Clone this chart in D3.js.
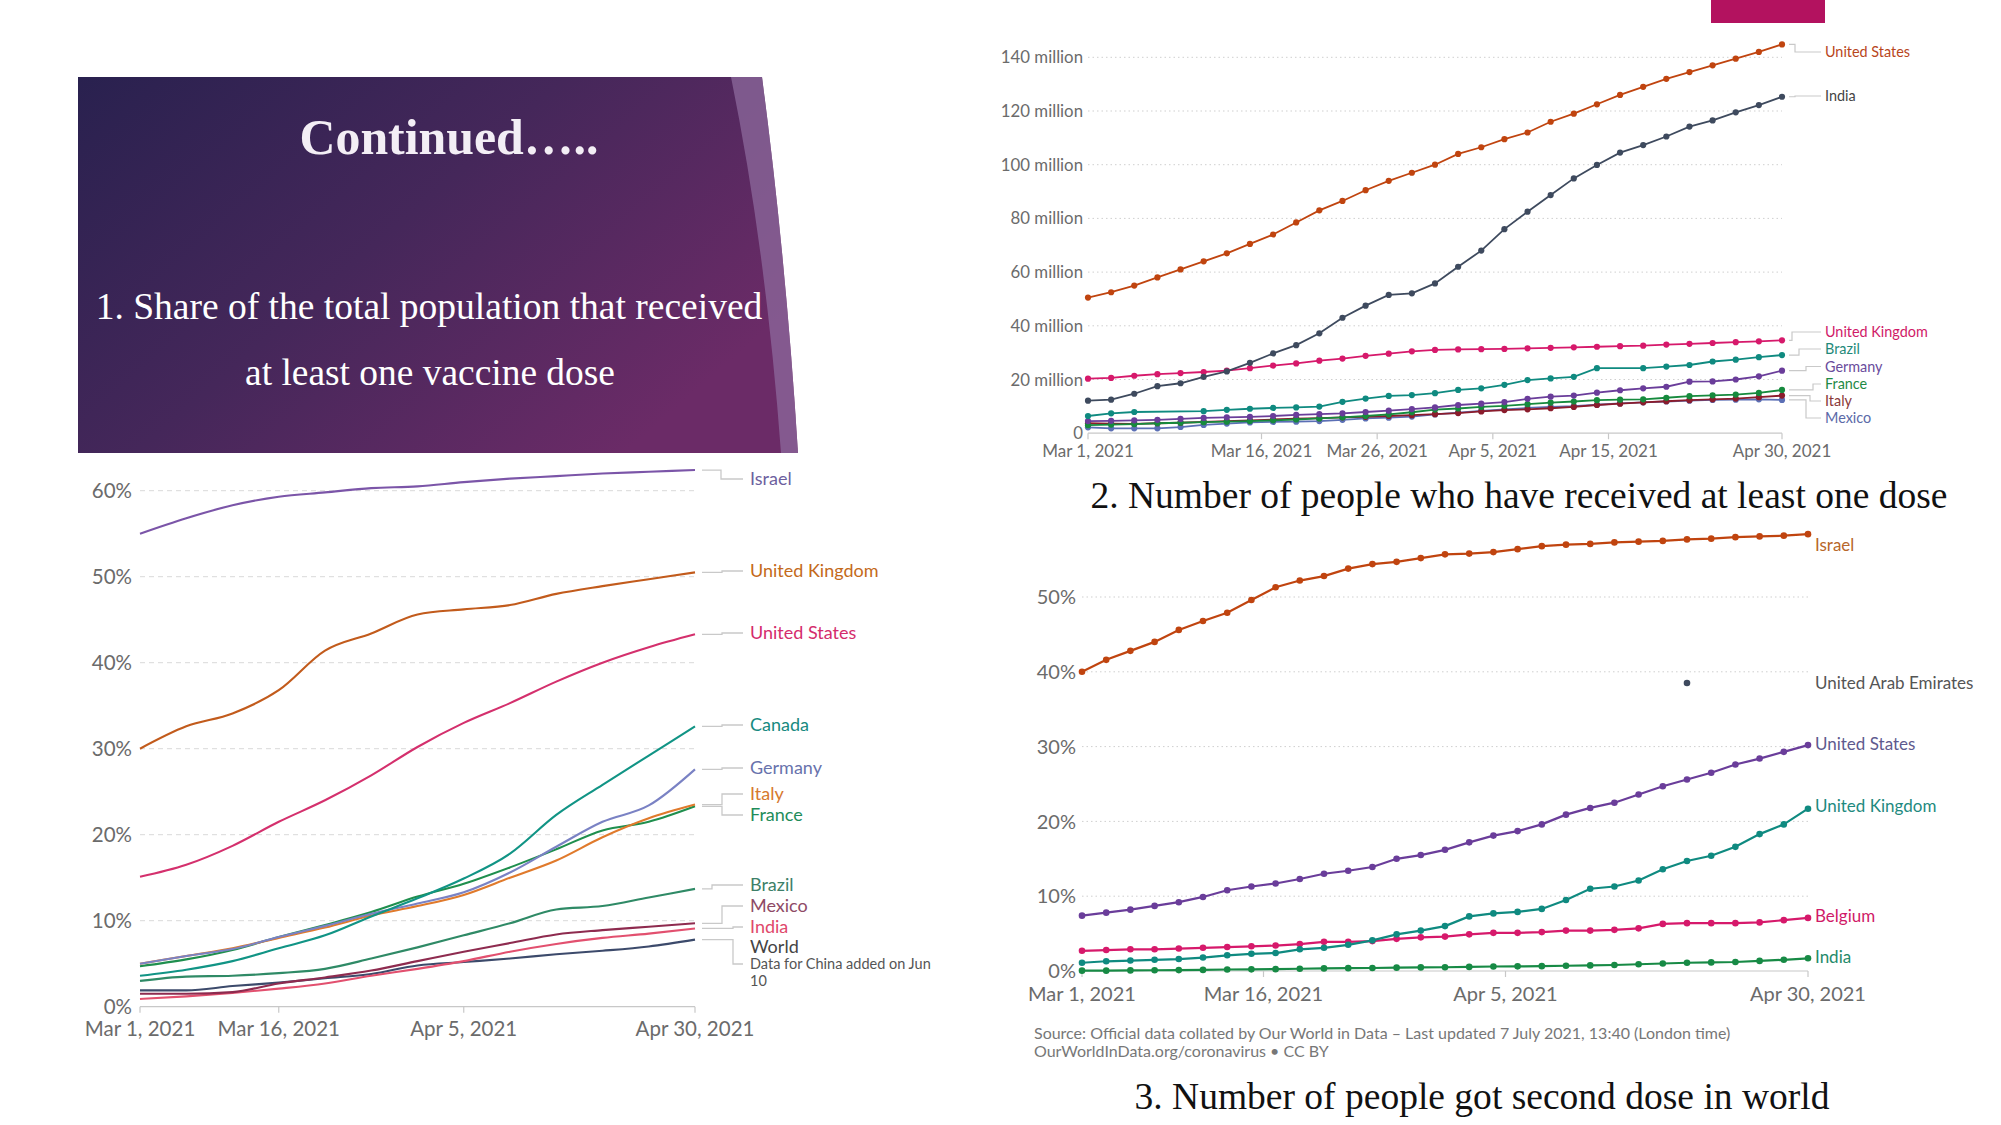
<!DOCTYPE html>
<html><head><meta charset="utf-8">
<script src="https://cdn.jsdelivr.net/npm/d3@7"></script>
<style>body{margin:0;background:#fff}svg{display:block}</style>
</head><body>
<svg id="s" width="2001" height="1125"></svg>
<script>
// ---------------- DATA ----------------
// Chart 1: share of population with at least one dose (%), every 5 days
const dates1 = ["2021-03-01","2021-03-06","2021-03-11","2021-03-16","2021-03-21","2021-03-26","2021-03-31","2021-04-05","2021-04-10","2021-04-15","2021-04-20","2021-04-25","2021-04-30"];
const israel1  = [55.0,56.8,58.3,59.3,59.8,60.3,60.5,61.0,61.4,61.7,62.0,62.2,62.4];
const uk1      = [30.0,32.6,34.1,36.8,41.4,43.4,45.6,46.2,46.7,48.0,48.9,49.7,50.5];
const us1      = [15.1,16.5,18.7,21.5,24.0,26.9,30.2,33.0,35.3,37.8,40.0,41.8,43.3];
const canada1  = [3.6,4.3,5.3,6.8,8.3,10.5,12.6,14.9,17.8,22.3,25.8,29.2,32.6];
const germany1 = [5.0,5.9,6.7,8.1,9.4,10.8,12.0,13.3,15.6,18.6,21.5,23.4,27.6];
const italy1   = [5.0,5.9,6.8,8.0,9.2,10.6,11.7,13.0,15.0,17.0,19.7,21.9,23.5];
const france1  = [4.7,5.5,6.6,8.1,9.5,11.0,12.8,14.3,16.2,18.3,20.5,21.5,23.3];
const brazil1  = [3.0,3.5,3.6,3.9,4.4,5.6,6.9,8.3,9.7,11.3,11.7,12.7,13.7];
const mexico1  = [1.5,1.5,1.7,2.7,3.4,4.2,5.3,6.4,7.4,8.4,8.9,9.3,9.7];
const india1   = [0.9,1.2,1.6,2.1,2.7,3.6,4.4,5.3,6.4,7.3,8.0,8.5,9.1];
const world1   = [1.9,1.9,2.4,2.8,3.3,3.8,4.8,5.2,5.6,6.1,6.5,7.0,7.8];
const yTicks1 = [0,10,20,30,40,50,60];
const xTicks1 = ["2021-03-01","2021-03-16","2021-04-05","2021-04-30"];

// Charts 2 & 3: every 2 days
const dates2 = ["2021-03-01","2021-03-03","2021-03-05","2021-03-07","2021-03-09","2021-03-11","2021-03-13","2021-03-15","2021-03-17","2021-03-19","2021-03-21","2021-03-23","2021-03-25","2021-03-27","2021-03-29","2021-03-31","2021-04-02","2021-04-04","2021-04-06","2021-04-08","2021-04-10","2021-04-12","2021-04-14","2021-04-16","2021-04-18","2021-04-20","2021-04-22","2021-04-24","2021-04-26","2021-04-28","2021-04-30"];
// Chart 2: people with at least one dose (millions)
const us2      = [50.5,52.5,55,58,61,64,67,70.5,74,78.5,83,86.5,90.5,94,97,100,104,106.5,109.5,112,116,119,122.5,126,129,132,134.5,137,139.5,142,144.8];
const india2   = [12.1,12.5,14.7,17.5,18.6,21.0,23.0,26.2,29.7,32.8,37.2,43.0,47.5,51.5,52.1,55.8,62.0,68.0,76.0,82.5,88.7,94.9,99.9,104.5,107.3,110.5,114.2,116.5,119.5,122.2,125.3];
const uk2      = [20.3,20.6,21.4,22.0,22.4,22.8,23.3,24.2,25.2,26.0,27.0,27.8,28.8,29.6,30.5,31.0,31.2,31.3,31.4,31.6,31.8,32.0,32.2,32.4,32.6,33.0,33.3,33.6,33.9,34.2,34.6];
const brazil2  = [6.4,7.4,7.9,null,null,8.2,8.7,9.1,9.4,9.6,9.9,11.7,12.9,13.9,14.2,14.9,16.1,16.7,18.0,19.8,20.4,21.0,24.2,null,24.2,24.8,25.4,26.7,27.4,28.3,29.1];
const germany2 = [4.5,4.6,4.8,5.0,5.3,5.7,5.9,6.1,6.4,6.8,7.1,7.4,7.9,8.4,9.0,9.6,10.5,11.0,11.6,12.8,13.6,14.0,15.1,16.0,16.7,17.3,19.2,19.3,20.0,21.2,23.3];
const france2  = [3.0,3.2,3.4,3.7,3.9,4.1,4.3,4.5,4.8,5.1,5.5,5.9,6.4,7.0,7.8,8.8,9.2,9.8,10.2,10.8,11.4,11.8,12.3,12.5,12.6,13.2,13.8,14.1,14.4,15.0,16.1];
const italy2   = [3.7,3.6,3.5,3.7,3.9,4.2,4.5,4.8,5.1,5.4,5.6,5.9,6.1,6.4,6.7,7.1,7.5,8.1,8.6,8.9,9.3,9.8,10.5,11.0,11.5,11.9,12.3,12.6,12.9,13.4,14.0];
const mexico2  = [2.2,1.8,1.8,1.8,2.3,3.1,3.6,4.0,4.2,4.3,4.5,5.0,5.5,5.8,6.2,7.0,7.7,8.3,8.9,9.4,9.8,10.1,10.6,11.1,11.5,11.8,12.1,12.4,12.5,12.6,12.4];
const yTicks2 = [0,20,40,60,80,100,120,140];
const xTicks2 = ["2021-03-01","2021-03-16","2021-03-26","2021-04-05","2021-04-15","2021-04-30"];
// Chart 3: share fully vaccinated (%)
const israel3  = [40.0,41.6,42.8,44.0,45.6,46.8,47.9,49.6,51.3,52.2,52.8,53.8,54.4,54.7,55.2,55.7,55.8,56.0,56.4,56.8,57.0,57.1,57.3,57.4,57.5,57.7,57.8,58.0,58.1,58.2,58.4];
const us3      = [7.4,7.8,8.2,8.7,9.2,9.9,10.8,11.3,11.7,12.3,13.0,13.4,13.9,15.0,15.5,16.2,17.2,18.1,18.7,19.6,20.9,21.8,22.5,23.6,24.7,25.6,26.5,27.6,28.4,29.3,30.2];
const uk3      = [1.1,1.3,1.4,1.5,1.6,1.8,2.1,2.3,2.4,2.9,3.1,3.5,4.1,4.9,5.4,6.0,7.3,7.7,7.9,8.3,9.5,11.0,11.3,12.1,13.6,14.7,15.4,16.6,18.3,19.6,21.7];
const belgium3 = [2.7,2.8,2.9,2.9,3.0,3.1,3.2,3.3,3.4,3.6,3.9,3.9,4.0,4.3,4.5,4.6,4.9,5.1,5.1,5.2,5.4,5.4,5.5,5.7,6.3,6.4,6.4,6.4,6.5,6.8,7.1];
const india3   = [0.05,0.05,0.08,0.1,0.12,0.15,0.2,0.22,0.25,0.3,0.35,0.38,0.4,0.45,0.48,0.5,0.55,0.6,0.62,0.65,0.7,0.75,0.8,0.9,1.0,1.1,1.15,1.2,1.35,1.5,1.7];
const uaeDate3 = "2021-04-20", uaeValue3 = 38.5;
const yTicks3 = [0,10,20,30,40,50];
const xTicks3 = ["2021-03-01","2021-03-16","2021-04-05","2021-04-30"];

// ---------------- DRAW ----------------
const svg = d3.select("#s");
const parse = d3.timeParse("%Y-%m-%d");
const fmt = d3.timeFormat("%b %-d, %Y");
const SANS = "Lato, 'Noto Sans', sans-serif";
const SERIF = "'Liberation Serif', 'Times New Roman', serif";

// slide decoration
const defs = svg.append("defs");
const g = defs.append("linearGradient").attr("id","pg").attr("x1","0").attr("y1","0").attr("x2","1").attr("y2","0.6");
g.append("stop").attr("offset","0").attr("stop-color","#29214f");
g.append("stop").attr("offset","0.5").attr("stop-color","#45275a");
g.append("stop").attr("offset","1").attr("stop-color","#6b2b67");
svg.append("path").attr("d","M78,77 H762 Q786,260 798,453 H78 Z").attr("fill","url(#pg)");
svg.append("path").attr("d","M731,77 H762 Q786,260 798,453 H781 Q766,250 731,77 Z").attr("fill","#8c6a9c").attr("opacity",0.75);
svg.append("rect").attr("x",1711).attr("y",0).attr("width",114).attr("height",23).attr("fill","#b3125f");

function fitText(sel, target){
  const w = sel.node().getComputedTextLength();
  const fs = parseFloat(sel.attr("font-size"));
  sel.attr("font-size", (fs*target/w).toFixed(2));
}
fitText(svg.append("text").attr("x",449).attr("y",154).attr("text-anchor","middle").attr("font-family",SERIF)
  .attr("font-weight","bold").attr("font-size",48).attr("fill","#f3eef5").text("Continued….."), 299);
fitText(svg.append("text").attr("x",429).attr("y",319).attr("text-anchor","middle").attr("font-family",SERIF)
  .attr("font-size",35).attr("fill","#fff").text("1. Share of the total population that received"), 667);
fitText(svg.append("text").attr("x",430).attr("y",385).attr("text-anchor","middle").attr("font-family",SERIF)
  .attr("font-size",35).attr("fill","#fff").text("at least one vaccine dose"), 370);
fitText(svg.append("text").attr("x",1519).attr("y",508).attr("text-anchor","middle").attr("font-family",SERIF)
  .attr("font-size",35).attr("fill","#111").text("2. Number of people who have received at least one dose"), 857);
fitText(svg.append("text").attr("x",1482).attr("y",1109).attr("text-anchor","middle").attr("font-family",SERIF)
  .attr("font-size",35).attr("fill","#111").text("3. Number of people got second dose in world"), 695);

function build(dates, arr){ return dates.map((d,i)=>({date:parse(d), v:arr[i]})).filter(p=>p.v!=null); }

function axes(o){
  const G = svg.append("g");
  o.yTicks.forEach(t=>{
    if(t>0) G.append("line").attr("x1",o.x.range()[0]).attr("x2",o.x.range()[1]).attr("y1",o.y(t)).attr("y2",o.y(t))
      .attr("stroke",o.gridColor).attr("stroke-width",1).attr("stroke-dasharray",o.dash);
    G.append("text").attr("x",o.yLabelX).attr("y",o.y(t)).attr("dy","0.36em").attr("text-anchor","end")
      .attr("font-family",SANS).attr("font-size",o.yFont).attr("fill","#6b6b6b").text(o.yFmt(t));
  });
  G.append("line").attr("x1",o.x.range()[0]).attr("x2",o.x.range()[1]).attr("y1",o.y(0)).attr("y2",o.y(0))
    .attr("stroke","#c8c8c8").attr("stroke-width",1.2);
  o.xTicks.forEach(d=>{
    const xx = o.x(parse(d));
    G.append("line").attr("x1",xx).attr("x2",xx).attr("y1",o.y(0)).attr("y2",o.y(0)+6).attr("stroke","#c8c8c8").attr("stroke-width",1.2);
    G.append("text").attr("x",xx).attr("y",o.xLabelY).attr("text-anchor","middle").attr("font-family",SANS)
      .attr("font-size",o.xFont).attr("fill","#6b6b6b").text(fmt(parse(d)));
  });
}

// ---- Chart 1 ----
const x1 = d3.scaleTime().domain([parse("2021-03-01"),parse("2021-04-30")]).range([140,695]);
const y1 = d3.scaleLinear().domain([0,60]).range([1006.7,490.7]);
axes({x:x1,y:y1,yTicks:yTicks1,xTicks:xTicks1,gridColor:"#d9d9d9",dash:"5,4",yLabelX:132,yFont:20.5,yFmt:t=>t+"%",xLabelY:1036,xFont:20.5});
const series1 = [
  {name:"World", data:world1, color:"#3c4a6b", lc:"#444", ly:947, cy:964, elbow:733},
  {name:"India", data:india1, color:"#e2506f", lc:"#e0486b", ly:927, elbow:733},
  {name:"Mexico", data:mexico1, color:"#8e2b4f", lc:"#8e4a66", ly:906, elbow:722},
  {name:"Brazil", data:brazil1, color:"#2f8a66", lc:"#3d7f68", ly:885, elbow:712},
  {name:"France", data:france1, color:"#1f8f4e", lc:"#1e8c5a", ly:815, elbow:722},
  {name:"Italy", data:italy1, color:"#e07a2c", lc:"#d6792e", ly:794, elbow:722},
  {name:"Germany", data:germany1, color:"#7a82c4", lc:"#6872ac", ly:768},
  {name:"Canada", data:canada1, color:"#119485", lc:"#178a80", ly:725},
  {name:"United States", data:us1, color:"#d4306d", lc:"#d42c6c", ly:633},
  {name:"United Kingdom", data:uk1, color:"#c25b1c", lc:"#c46a1a", ly:571},
  {name:"Israel", data:israel1, color:"#7b55a8", lc:"#6d5f9e", ly:479, elbow:721}
];
const line1 = d3.line().x(d=>x1(d.date)).y(d=>y1(d.v)).curve(d3.curveMonotoneX);
series1.forEach(s=>{
  const pts = build(dates1, s.data);
  svg.append("path").attr("d",line1(pts)).attr("fill","none").attr("stroke",s.color).attr("stroke-width",2.1);
  const end = pts[pts.length-1], ye = y1(end.v), xe = x1(end.date);
  const cy = s.cy!=null ? s.cy : s.ly;
  const ex = s.elbow || 722;
  svg.append("path").attr("d",`M${xe+7},${ye} H${ex} V${cy} H743`).attr("fill","none").attr("stroke","#c9c9c9").attr("stroke-width",1.3);
  svg.append("text").attr("x",750).attr("y",s.ly).attr("dy","0.36em").attr("font-family",SANS).attr("font-size",18)
    .attr("fill",s.lc).text(s.name);
});
svg.append("text").attr("x",750).attr("y",964).attr("dy","0.36em").attr("font-family",SANS).attr("font-size",14.5).attr("fill","#555").text("Data for China added on Jun");
svg.append("text").attr("x",750).attr("y",981).attr("dy","0.36em").attr("font-family",SANS).attr("font-size",14.5).attr("fill","#555").text("10");

// ---- Chart 2 ----
const x2 = d3.scaleTime().domain([parse("2021-03-01"),parse("2021-04-30")]).range([1088,1782]);
const y2 = d3.scaleLinear().domain([0,140]).range([433.2,57.3]);
axes({x:x2,y:y2,yTicks:yTicks2,xTicks:xTicks2,gridColor:"#cfcfcf",dash:"1.5,3",yLabelX:1083,yFont:16.8,yFmt:t=>t===0?"0":t+" million",xLabelY:457,xFont:17});
const series2 = [
  {name:"Mexico", data:mexico2, color:"#5b6fb5", lc:"#5b6aa8", ly:418, elbow:1806},
  {name:"Italy", data:italy2, color:"#8b1c2c", lc:"#8b3a3a", ly:401, elbow:1810},
  {name:"France", data:france2, color:"#168a3d", lc:"#1f8a45", ly:384, elbow:1813},
  {name:"Germany", data:germany2, color:"#6a3d9a", lc:"#6a4c9c", ly:366.5, elbow:1806},
  {name:"Brazil", data:brazil2, color:"#0f8a80", lc:"#1f8a7a", ly:349, elbow:1799},
  {name:"United Kingdom", data:uk2, color:"#d6196b", lc:"#d01a68", ly:332, elbow:1792},
  {name:"India", data:india2, color:"#3e4a5e", lc:"#444", ly:96, elbow:1795},
  {name:"United States", data:us2, color:"#c0440f", lc:"#b8461c", ly:52, elbow:1795}
];
const line2 = d3.line().x(d=>x2(d.date)).y(d=>y2(d.v));
series2.forEach(s=>{
  const pts = build(dates2, s.data);
  svg.append("path").attr("d",line2(pts)).attr("fill","none").attr("stroke",s.color).attr("stroke-width",1.8);
  svg.append("g").selectAll("circle").data(pts).join("circle").attr("cx",d=>x2(d.date)).attr("cy",d=>y2(d.v)).attr("r",3.1).attr("fill",s.color);
  const end = pts[pts.length-1], ye = y2(end.v), xe = x2(end.date);
  svg.append("path").attr("d",`M${xe+7},${ye} H${s.elbow} V${s.ly} H1821`).attr("fill","none").attr("stroke","#c9c9c9").attr("stroke-width",1.2);
  svg.append("text").attr("x",1825).attr("y",s.ly).attr("dy","0.36em").attr("font-family",SANS).attr("font-size",14.4)
    .attr("fill",s.lc).text(s.name);
});

// ---- Chart 3 ----
const x3 = d3.scaleTime().domain([parse("2021-03-01"),parse("2021-04-30")]).range([1082,1808]);
const y3 = d3.scaleLinear().domain([0,50]).range([971,597]);
axes({x:x3,y:y3,yTicks:yTicks3,xTicks:xTicks3,gridColor:"#cfcfcf",dash:"1.5,3",yLabelX:1076,yFont:20,yFmt:t=>t+"%",xLabelY:1001,xFont:20});
const series3 = [
  {name:"India", data:india3, color:"#178a45", lc:"#1f8a6a", ly:957},
  {name:"Belgium", data:belgium3, color:"#d6196b", lc:"#d01a68", ly:916},
  {name:"United Kingdom", data:uk3, color:"#0f8a80", lc:"#1f8a80", ly:806},
  {name:"United States", data:us3, color:"#6a3d9a", lc:"#5e5a8e", ly:744},
  {name:"Israel", data:israel3, color:"#c0440f", lc:"#b8672a", ly:545}
];
const line3 = d3.line().x(d=>x3(d.date)).y(d=>y3(d.v));
series3.forEach(s=>{
  const pts = build(dates2, s.data);
  svg.append("path").attr("d",line3(pts)).attr("fill","none").attr("stroke",s.color).attr("stroke-width",2.2);
  svg.append("g").selectAll("circle").data(pts).join("circle").attr("cx",d=>x3(d.date)).attr("cy",d=>y3(d.v)).attr("r",3.3).attr("fill",s.color);
  svg.append("text").attr("x",1815).attr("y",s.ly).attr("dy","0.36em").attr("font-family",SANS).attr("font-size",17)
    .attr("fill",s.lc).text(s.name);
});
svg.append("circle").attr("cx",x3(parse(uaeDate3))).attr("cy",y3(uaeValue3)).attr("r",3.3).attr("fill","#3e4a5e");
svg.append("text").attr("x",1815).attr("y",683).attr("dy","0.36em").attr("font-family",SANS).attr("font-size",17)
  .attr("fill","#555").text("United Arab Emirates");

svg.append("text").attr("x",1034).attr("y",1039).attr("font-family",SANS).attr("font-size",16).attr("fill","#777")
  .text("Source: Official data collated by Our World in Data – Last updated 7 July 2021, 13:40 (London time)");
svg.append("text").attr("x",1034).attr("y",1057).attr("font-family",SANS).attr("font-size",16).attr("fill","#777")
  .text("OurWorldInData.org/coronavirus • CC BY");
</script>
</body></html>
